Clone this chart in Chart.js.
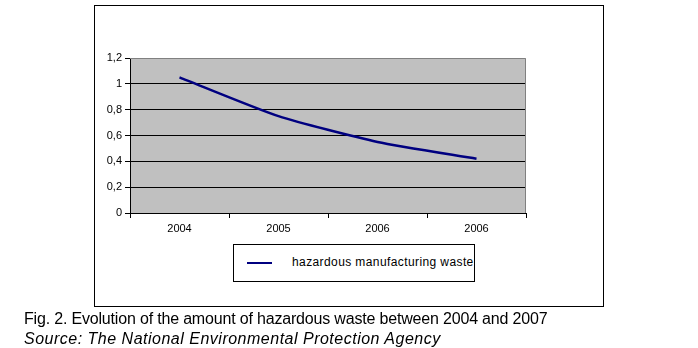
<!DOCTYPE html>
<html>
<head>
<meta charset="utf-8">
<script src="https://cdn.jsdelivr.net/npm/chart.js@4/dist/chart.umd.min.js"></script>
<style>
  html, body { margin:0; padding:0; background:#fff; }
  #wrap { position:relative; width:698px; height:348px; overflow:hidden; font-family:"Liberation Sans", Arial, sans-serif; }
  #frame { position:absolute; left:94px; top:5px; width:508px; height:300px; border:1px solid #000; }
  canvas { position:absolute; left:0; top:0; }
  #legend { position:absolute; left:233px; top:244px; width:240px; height:36px; border:1px solid #000; background:#fff; }
  #legend .swatch { position:absolute; left:13px; top:17px; width:25px; height:2px; background:#000080; }
  #legend .txt { position:absolute; left:58px; top:10px; font-size:12px; color:#000; white-space:nowrap; letter-spacing:0.4px; }
  .cap { position:absolute; left:24px; font-size:16px; color:#000; white-space:nowrap; }
</style>
</head>
<body>
<div id="wrap">
  <div id="frame"></div>
  <canvas id="c" width="698" height="348"></canvas>
  <div id="legend"><div class="swatch"></div><div class="txt" id="legendText"></div></div>
  <div class="cap" id="cap1" style="top:310px;letter-spacing:-0.18px;"></div>
  <div class="cap" id="cap2" style="top:330px;font-style:italic;letter-spacing:0.5px;"></div>
</div>
<script>
const categories = ["2004", "2005", "2006", "2006"];
const seriesName = "hazardous manufacturing waste";
const wasteValues = [1.05, 0.75, 0.55, 0.42];
const yTicks = [0, 0.2, 0.4, 0.6, 0.8, 1, 1.2];
const captionLine1 = "Fig. 2. Evolution of the amount of hazardous waste between 2004 and 2007";
const captionLine2 = "Source: The National Environmental Protection Agency";

document.getElementById('legendText').textContent = seriesName;
document.getElementById('cap1').textContent = captionLine1;
document.getElementById('cap2').textContent = captionLine2;

const plotBg = {
  id: 'plotBg',
  beforeDraw(chart) {
    const {ctx, chartArea: a} = chart;
    ctx.save();
    ctx.fillStyle = '#c0c0c0';
    ctx.fillRect(a.left, a.top, a.right - a.left, a.bottom - a.top);
    ctx.restore();
  },
  afterDatasetsDraw(chart) {
    const {ctx, chartArea: a} = chart;
    ctx.save();
    ctx.strokeStyle = '#808080';
    ctx.lineWidth = 1;
    ctx.beginPath();
    ctx.moveTo(a.left, a.top + 0.5);
    ctx.lineTo(a.right - 0.5, a.top + 0.5);
    ctx.lineTo(a.right - 0.5, a.bottom);
    ctx.stroke();
    ctx.restore();
  }
};

new Chart(document.getElementById('c'), {
  type: 'line',
  data: {
    labels: categories,
    datasets: [{
      label: seriesName,
      data: wasteValues,
      borderColor: '#000080',
      borderWidth: 2.5,
      pointRadius: 0,
      tension: 0.2,
      fill: false
    }]
  },
  options: {
    responsive: false,
    animation: false,
    events: [],
    layout: { padding: { left: 0, right: 172, top: 58, bottom: 105 } },
    plugins: { legend: { display: false }, tooltip: { enabled: false } },
    scales: {
      x: {
        offset: true,
        afterFit(s) { s.height = 30; },
        grid: { offset: true, drawOnChartArea: false, drawTicks: true, tickLength: 5, color: '#000' },
        border: { color: '#000', width: 1 },
        ticks: { color: '#000', font: { family: 'Liberation Sans', size: 11 }, padding: 4, maxRotation: 0 }
      },
      y: {
        min: 0, max: 1.2,
        afterFit(s) { s.width = 130; },
        afterBuildTicks(s) { s.ticks = yTicks.map(v => ({ value: v })); },
        grid: { color: (c) => (c.tick && c.tick.value === 1.2) ? 'rgba(0,0,0,0)' : '#000', drawTicks: true, tickLength: 5, tickColor: '#000' },
        border: { color: '#000', width: 1 },
        ticks: {
          color: '#000', font: { family: 'Liberation Sans', size: 11 }, padding: 3,
          callback: (v) => String(Math.round(v * 10) / 10).replace('.', ',')
        }
      }
    }
  },
  plugins: [plotBg]
});
</script>
</body>
</html>
